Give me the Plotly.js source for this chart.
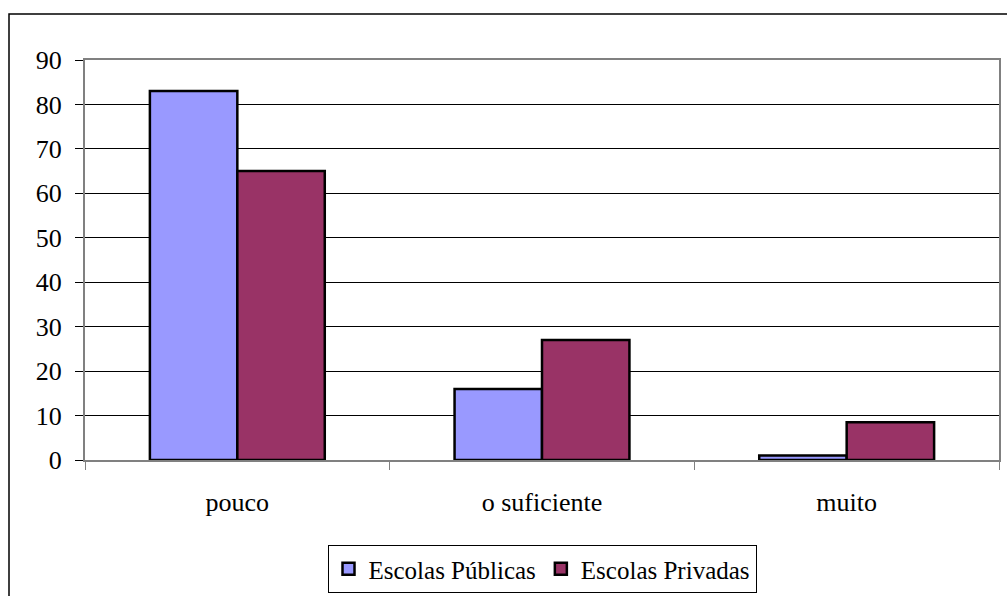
<!DOCTYPE html>
<html>
<head>
<meta charset="utf-8">
<script src="https://cdn.plot.ly/plotly-3.0.1.min.js"></script>
<style>html,body{margin:0;padding:0;background:#fff;}#chart{width:1007px;height:596px;}</style>
</head>
<body>
<div id="chart"></div>
<script>
const categories = ["pouco", "o suficiente", "muito"];
const publicas = [83, 16, 1];
const privadas = [65, 27, 8.5];
const seriesNames = ["Escolas Públicas", "Escolas Privadas"];
const yTicks = [0, 10, 20, 30, 40, 50, 60, 70, 80, 90];

const fam = "Liberation Serif, Times New Roman, serif";
const font = {family: fam, size: 26, color: "#000"};
const legendFont = {family: fam, size: 25, color: "#000"};

const traces = [
  {type: "bar", name: seriesNames[0], x: categories, y: publicas,
   marker: {color: "#9999FF", line: {color: "#000", width: 2.5}}},
  {type: "bar", name: seriesNames[1], x: categories, y: privadas,
   marker: {color: "#993366", line: {color: "#000", width: 2.5}}}
];

const layout = {
  width: 1007, height: 596,
  margin: {l: 85, r: 8, t: 60, b: 136, autoexpand: false},
  paper_bgcolor: "#fff", plot_bgcolor: "#fff",
  font: font,
  barmode: "group", bargap: 0.426, bargroupgap: 0,
  showlegend: true,
  legend: {orientation: "h", x: 0.5, xanchor: "center", yref: "container", y: 1 - 545 / 596, yanchor: "top",
           bordercolor: "#000", borderwidth: 1, font: legendFont, itemwidth: 30, tracegroupgap: 0},
  xaxis: {type: "category", tickson: "boundaries", ticks: "outside", ticklen: 8, tickcolor: "#808080",
          showline: true, linecolor: "#808080", linewidth: 2, mirror: true, showgrid: false, automargin: false,
          ticklabelstandoff: 18, tickfont: font, fixedrange: true},
  yaxis: {range: [0, 90], tickvals: yTicks, ticks: "outside", ticklen: 8, tickcolor: "#000",
          showline: true, linecolor: "#808080", linewidth: 2, mirror: true, automargin: false,
          showgrid: true, gridcolor: "#000", gridwidth: 1, zeroline: false,
          ticklabelstandoff: 8, tickfont: font, fixedrange: true},
  shapes: [{type: "rect", xref: "paper", yref: "paper",
            x0: (9 - 85) / 914, x1: (1012 - 85) / 914,
            y0: (460 - 600) / 400, y1: (460 - 14) / 400,
            line: {color: "#000", width: 1.5}, fillcolor: "rgba(0,0,0,0)", layer: "below"}]
};

Plotly.newPlot("chart", traces, layout, {displayModeBar: false, staticPlot: true});
</script>
</body>
</html>
